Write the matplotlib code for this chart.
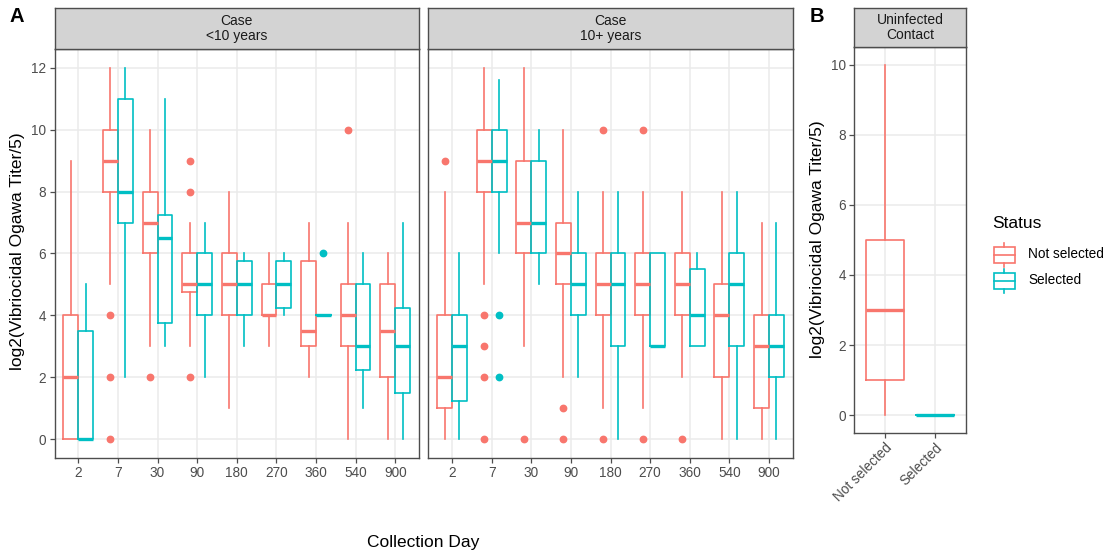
import matplotlib
matplotlib.use("Agg")
import matplotlib.pyplot as plt
from matplotlib.patches import Rectangle
from matplotlib.lines import Line2D

plt.rcParams["font.family"] = ["Liberation Sans", "DejaVu Sans"]

W, H = 1107, 554

# collection days (shared by both age groups)
days = ["2", "7", "30", "90", "180", "270", "360", "540", "900"]
statuses = ["Not selected", "Selected"]

# each row: whisker low, Q1, median, Q3, whisker high
young_not_sel = [
    [0, 0, 2, 4, 9],
    [5, 8, 9, 10, 12],
    [3, 6, 7, 8, 10],
    [3, 4.75, 5, 6, 7],
    [1, 4, 5, 6, 8],
    [3, 4, 4, 5, 6],
    [2, 3, 3.5, 5.75, 7],
    [0, 3, 4, 5, 7],
    [0, 2, 3.5, 5, 6],
]
young_not_sel_out = [[], [4, 2, 0], [2], [9, 8, 2], [], [], [], [10], []]

young_sel = [
    [0, 0, 0, 3.5, 5],
    [2, 7, 8, 11, 12],
    [3, 3.75, 6.5, 7.25, 11],
    [2, 4, 5, 6, 7],
    [3, 4, 5, 5.75, 6],
    [4, 4.25, 5, 5.75, 6],
    [4, 4, 4, 4, 4],
    [1, 2.25, 3, 5, 6],
    [0, 1.5, 3, 4.25, 7],
]
young_sel_out = [[], [], [], [], [], [], [6], [], []]

old_not_sel = [
    [0, 1, 2, 4, 8],
    [5, 8, 9, 10, 12],
    [3, 6, 7, 9, 12],
    [2, 5, 6, 7, 10],
    [1, 4, 5, 6, 8],
    [1, 4, 5, 6, 8],
    [2, 4, 5, 6, 8],
    [0, 2, 4, 5, 8],
    [0, 1, 3, 4, 7],
]
old_not_sel_out = [[9], [4, 3, 2, 0], [0], [1, 0], [10, 0], [10, 0], [0], [], []]

old_sel = [
    [0, 1.25, 3, 4, 6],
    [6, 8, 9, 10, 11.6],
    [5, 6, 7, 9, 10],
    [2, 4, 5, 6, 8],
    [0, 3, 5, 6, 8],
    [3, 3, 3, 6, 6],
    [3, 3, 4, 5.5, 6],
    [0, 3, 5, 6, 8],
    [0, 2, 3, 4, 7],
]
old_sel_out = [[], [4, 2], [], [], [], [], [], [], []]

# uninfected contacts
contact_not_sel = [0, 1, 3, 5, 10]
contact_sel = [0, 0, 0, 0, 0]

RED, CYAN = "#F8766D", "#00BFC4"
BORDER = "#4d4d4d"
GRID = "#EBEBEB"
STRIP = "#D3D3D3"
TICK = "#4D4D4D"
YLAB = "log2(Vibriocidal Ogawa Titer/5)"


def box(x0, y0, x1, y1):
    # pixel box (top-left origin) -> figure fraction rect
    return [x0 / W, 1 - y1 / H, (x1 - x0) / W, (y1 - y0) / H]


def style_axes(ax):
    ax.set_facecolor("white")
    for s in ax.spines.values():
        s.set_color(BORDER)
        s.set_linewidth(1.0)
    ax.grid(True, color=GRID, lw=1.1)
    ax.set_axisbelow(True)
    ax.tick_params(colors=BORDER, labelcolor=TICK, labelsize=9.8,
                   length=3.5, width=0.9, pad=2.5)


def add_strip(rect, text):
    s = fig.add_axes(rect)
    s.set_facecolor(STRIP)
    s.set_xticks([])
    s.set_yticks([])
    for sp in s.spines.values():
        sp.set_color(BORDER)
        sp.set_linewidth(1.0)
    s.text(0.5, 0.5, text, ha="center", va="center", fontsize=10,
           color="#1a1a1a", linespacing=1.1, transform=s.transAxes)


def draw_box(ax, row, out, pos, width, color):
    stats = [dict(whislo=row[0], q1=row[1], med=row[2], q3=row[3],
                  whishi=row[4], fliers=out)]
    ax.bxp(stats, positions=[pos], widths=width, showcaps=False,
           manage_ticks=False,
           boxprops=dict(color=color, lw=1.2),
           whiskerprops=dict(color=color, lw=1.2),
           medianprops=dict(color=color, lw=2.4, solid_capstyle="butt"),
           flierprops=dict(marker="o", markerfacecolor=color,
                           markeredgecolor=color, markersize=4.6, lw=0))


fig = plt.figure(figsize=(W / 100, H / 100), dpi=100)

facets = [
    ("Case\n<10 years", young_not_sel, young_not_sel_out, young_sel, young_sel_out, 54.5, 419.0),
    ("Case\n10+ years", old_not_sel, old_not_sel_out, old_sel, old_sel_out, 428.3, 792.7),
]
for k, (title, ns, ns_out, se, se_out, x0, x1) in enumerate(facets):
    ax = fig.add_axes(box(x0, 49, x1, 458))
    style_axes(ax)
    for i in range(len(days)):
        draw_box(ax, ns[i], ns_out[i], i + 1 - 0.1875, 0.375, RED)
        draw_box(ax, se[i], se_out[i], i + 1 + 0.1875, 0.375, CYAN)
    ax.set_xlim(0.4, len(days) + 0.6)
    ax.set_ylim(-0.6, 12.6)
    ax.set_xticks(range(1, len(days) + 1))
    ax.set_xticklabels(days)
    ax.set_yticks(range(0, 13, 2))
    if k == 1:
        ax.tick_params(axis="y", length=0, labelleft=False)
    add_strip(box(x0, 7.5, x1, 49), title)

fig.text(18 / W, 1 - 251 / H, YLAB, rotation=90, ha="center", va="center", fontsize=12.5)
fig.text(423.6 / W, 1 - 543 / H, "Collection Day", ha="center", va="center", fontsize=12.5)

# panel B: uninfected contacts
axb = fig.add_axes(box(854.3, 47, 965.7, 432.7))
style_axes(axb)
draw_box(axb, contact_not_sel, [], 1, 0.75, RED)
draw_box(axb, contact_sel, [], 2, 0.75, CYAN)
axb.set_xlim(0.4, 2.6)
axb.set_ylim(-0.5, 10.5)
axb.set_xticks([1, 2])
axb.set_xticklabels(statuses, rotation=45, ha="right", rotation_mode="anchor")
axb.set_yticks(range(0, 11, 2))
add_strip(box(854.3, 7.5, 965.7, 47), "Uninfected\nContact")
fig.text(817 / W, 1 - 239 / H, YLAB, rotation=90, ha="center", va="center", fontsize=12.5)

fig.text(17 / W, 1 - 17 / H, "A", ha="center", va="center", fontsize=14.5, fontweight="bold")
fig.text(817 / W, 1 - 16 / H, "B", ha="center", va="center", fontsize=14.5, fontweight="bold")

# legend drawn on a blank overlay in pixel coordinates
lg = fig.add_axes([0, 0, 1, 1])
lg.set_xlim(0, W)
lg.set_ylim(H, 0)
lg.axis("off")
lg.text(992, 224, "Status", ha="left", va="center", fontsize=12.5)
for label, color, yc in [(statuses[0], RED, 254.5), (statuses[1], CYAN, 280.5)]:
    lg.add_patch(Rectangle((993.5, yc - 8), 21.5, 16, fill=False, ec=color, lw=1.2))
    lg.add_line(Line2D([993.5, 1015], [yc, yc], color=color, lw=1.2))
    lg.add_line(Line2D([1004.25, 1004.25], [yc - 12, yc - 8], color=color, lw=1.2))
    lg.add_line(Line2D([1004.25, 1004.25], [yc + 8, yc + 12], color=color, lw=1.2))
    lg.text(1028, yc, label, ha="left", va="center", fontsize=9.8)

fig.savefig("out.png", dpi=100)
